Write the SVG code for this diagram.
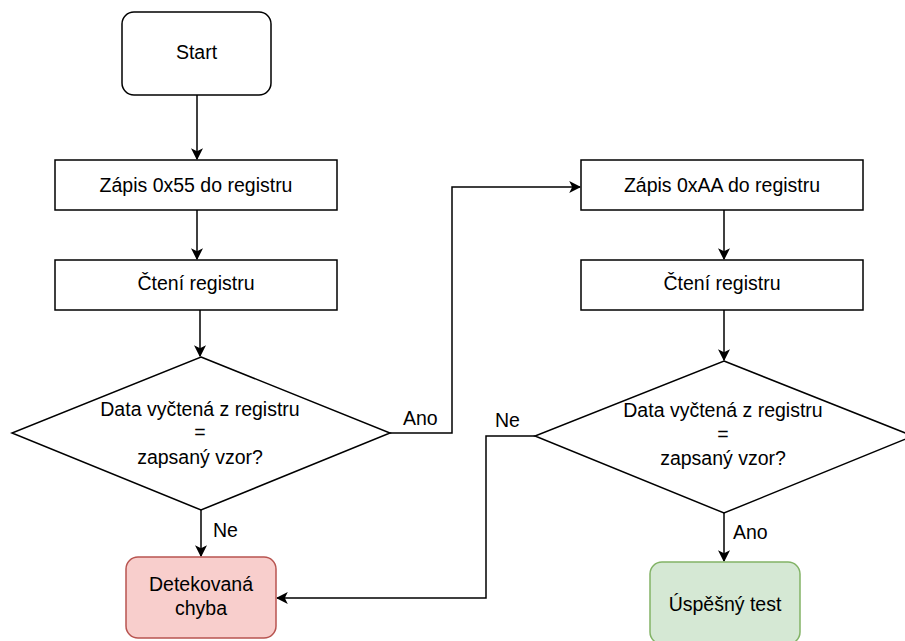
<svg xmlns="http://www.w3.org/2000/svg" width="905" height="641" viewBox="0 0 905 641">
  <style>
    .node { fill: #ffffff; stroke: #000000; stroke-width: 1.5; }
    .err { fill: #f8cecc; stroke: #b85450; stroke-width: 1.5; }
    .ok { fill: #d5e8d4; stroke: #82b366; stroke-width: 1.5; }
    .edge { fill: none; stroke: #000000; stroke-width: 1.5; marker-end: url(#arrow); }
    text { font-family: "Liberation Sans", Arial, sans-serif; font-size: 19.5px; fill: #000000; }
    .c { text-anchor: middle; }
  </style>
  <defs>
    <marker id="arrow" viewBox="0 0 10 10" refX="9" refY="5" markerWidth="12" markerHeight="12" markerUnits="userSpaceOnUse" orient="auto">
      <path d="M0,0 L10,5 L0,10 L2.5,5 Z" fill="#000000"/>
    </marker>
  </defs>

  <rect width="905" height="641" fill="#ffffff"/>

  <g id="connectors">
    <path class="edge" d="M197,95 L197,159"/>
    <path class="edge" d="M197,210 L197,259"/>
    <path class="edge" d="M200,310 L200,356"/>
    <path class="edge" d="M201,510 L201,556"/>
    <path class="edge" d="M390,433 L452,433 L452,187 L580,187"/>
    <path class="edge" d="M724,210 L724,259"/>
    <path class="edge" d="M724,310 L724,360"/>
    <path class="edge" d="M724,513 L724,561"/>
    <path class="edge" d="M535,436 L486,436 L486,598 L277,598"/>
    <text x="403" y="425">Ano</text>
    <text x="495" y="427">Ne</text>
    <text x="213" y="537">Ne</text>
    <text x="733" y="539">Ano</text>
  </g>

  <g id="start">
    <rect class="node" x="122" y="12" width="149" height="83" rx="12"/>
    <text class="c" x="196.5" y="59">Start</text>
  </g>

  <g id="write55">
    <rect class="node" x="55" y="160" width="282" height="50"/>
    <text class="c" x="196" y="192">Zápis 0x55 do registru</text>
  </g>

  <g id="read1">
    <rect class="node" x="55" y="260" width="282" height="50"/>
    <text class="c" x="196" y="290">Čtení registru</text>
  </g>

  <g id="check1">
    <polygon class="node" points="201,357 390,433 201,510 12,433"/>
    <text class="c" x="200" y="416">Data vyčtená z registru</text>
    <text class="c" x="200" y="439">=</text>
    <text class="c" x="200" y="464">zapsaný vzor?</text>
  </g>

  <g id="error">
    <rect class="err" x="126" y="557" width="150" height="81" rx="12"/>
    <text class="c" x="201" y="591">Detekovaná</text>
    <text class="c" x="201" y="615">chyba</text>
  </g>

  <g id="writeAA">
    <rect class="node" x="581" y="160" width="282" height="50"/>
    <text class="c" x="722" y="192">Zápis 0xAA do registru</text>
  </g>

  <g id="read2">
    <rect class="node" x="581" y="260" width="282" height="50"/>
    <text class="c" x="722" y="290">Čtení registru</text>
  </g>

  <g id="check2">
    <polygon class="node" points="724,361 913,436 724,513 535,436"/>
    <text class="c" x="723" y="417">Data vyčtená z registru</text>
    <text class="c" x="723" y="441">=</text>
    <text class="c" x="723" y="465">zapsaný vzor?</text>
  </g>

  <g id="success">
    <rect class="ok" x="650" y="562" width="150" height="82" rx="12"/>
    <text class="c" x="725" y="611">Úspěšný test</text>
  </g>
</svg>
